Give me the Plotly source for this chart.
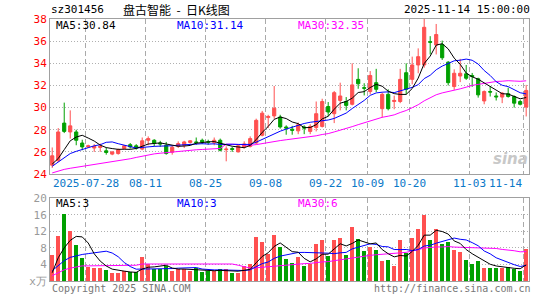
import plotly.graph_objects as go
import pandas as pd

# ---------------- data ----------------
dates = (
    ["2025-07-18", "2025-07-21", "2025-07-22", "2025-07-23", "2025-07-24", "2025-07-25",
     "2025-07-28", "2025-07-29", "2025-07-30", "2025-07-31",
     "2025-08-01", "2025-08-04", "2025-08-05", "2025-08-06", "2025-08-07", "2025-08-08",
     "2025-08-11", "2025-08-12", "2025-08-13", "2025-08-14", "2025-08-15",
     "2025-08-18", "2025-08-19", "2025-08-20", "2025-08-21", "2025-08-22",
     "2025-08-25", "2025-08-26", "2025-08-27", "2025-08-28", "2025-08-29",
     "2025-09-01", "2025-09-02", "2025-09-03", "2025-09-04", "2025-09-05",
     "2025-09-08", "2025-09-09", "2025-09-10", "2025-09-11", "2025-09-12",
     "2025-09-15", "2025-09-16", "2025-09-17", "2025-09-18", "2025-09-19",
     "2025-09-22", "2025-09-23", "2025-09-24", "2025-09-25", "2025-09-26",
     "2025-09-29", "2025-09-30",
     "2025-10-09", "2025-10-10",
     "2025-10-13", "2025-10-14", "2025-10-15", "2025-10-16", "2025-10-17",
     "2025-10-20", "2025-10-21", "2025-10-22", "2025-10-23", "2025-10-24",
     "2025-10-27", "2025-10-28", "2025-10-29", "2025-10-30", "2025-10-31",
     "2025-11-03", "2025-11-04", "2025-11-05", "2025-11-06", "2025-11-07",
     "2025-11-10", "2025-11-11", "2025-11-12", "2025-11-13", "2025-11-14"]
)

open_ = [24.80, 25.20, 28.60, 27.80, 27.80, 26.80, 26.45, 26.35, 26.40, 26.10,
         25.80, 25.85, 26.30, 26.65, 26.55, 26.25, 27.05, 27.05, 26.80, 26.60,
         25.97, 26.50, 26.60, 26.85, 26.90, 27.05, 26.92, 26.85, 27.05, 26.20,
         26.30, 26.00, 26.45, 26.50, 26.80, 27.50, 29.10, 29.25, 29.15, 28.25,
         28.05, 27.90, 28.25, 27.85, 28.20, 28.30, 30.10, 29.45, 30.65, 30.55,
         30.30, 32.55, 31.80, 31.45, 32.25, 29.90, 31.20, 30.55, 30.55, 33.15,
         32.55, 33.85, 33.85, 35.95, 35.65, 35.70, 34.10, 31.90, 32.85, 33.05,
         32.90, 32.60, 30.60, 31.45, 31.05, 30.95, 31.25, 31.00, 30.55, 30.05]
high = [26.40, 28.15, 30.45, 29.75, 28.00, 27.10, 26.65, 26.70, 26.75, 26.40,
        26.05, 26.30, 26.60, 26.80, 26.70, 27.30, 27.40, 27.15, 27.00, 26.90,
        26.55, 26.95, 27.00, 27.05, 27.30, 27.20, 27.10, 27.30, 27.20, 26.50,
        26.45, 26.65, 26.95, 27.40, 29.00, 29.70, 29.35, 31.95, 29.35, 28.40,
        28.35, 28.65, 28.40, 28.50, 30.55, 30.80, 30.50, 31.50, 32.25, 30.95,
        34.00, 33.55, 32.20, 33.30, 33.50, 31.35, 31.65, 31.08, 33.50, 34.00,
        34.60, 35.35, 38.00, 36.45, 37.55, 36.05, 34.20, 33.45, 34.40, 33.85,
        33.13, 32.70, 31.55, 31.95, 31.37, 31.40, 31.80, 31.10, 30.70, 32.05]
low = [24.55, 25.10, 27.70, 27.20, 26.60, 26.15, 26.35, 26.00, 26.00, 25.75,
       25.70, 25.75, 26.25, 26.30, 26.20, 26.15, 26.60, 26.50, 26.45, 25.75,
       25.75, 26.35, 26.35, 26.75, 26.65, 26.70, 26.65, 26.60, 26.05, 25.15,
       26.00, 25.95, 26.30, 26.40, 26.70, 27.40, 28.15, 29.00, 28.10, 27.55,
       27.55, 27.60, 27.60, 27.60, 27.85, 28.20, 29.20, 28.60, 29.75, 29.75,
       30.20, 31.70, 31.10, 31.20, 31.40, 29.10, 29.75, 29.85, 30.40, 31.20,
       32.10, 33.10, 33.60, 34.80, 34.80, 34.30, 32.00, 31.60, 32.30, 32.50,
       31.87, 30.90, 30.30, 31.00, 30.64, 30.40, 30.90, 30.00, 30.20, 29.20]
close = [25.65, 27.80, 27.85, 28.35, 27.05, 26.45, 26.55, 26.50, 26.50, 25.95,
         26.00, 26.20, 26.55, 26.45, 26.35, 27.00, 27.20, 26.80, 26.72, 25.85,
         26.42, 26.75, 26.90, 27.00, 26.85, 26.88, 26.88, 27.05, 26.15, 26.25,
         26.22, 26.55, 26.72, 27.20, 28.85, 29.50, 29.20, 29.95, 28.25, 28.15,
         27.95, 28.45, 28.15, 28.30, 29.45, 30.55, 29.60, 31.35, 31.05, 30.20,
         32.05, 32.15, 31.75, 32.90, 31.65, 31.20, 29.90, 30.65, 32.55, 31.65,
         33.85, 34.60, 37.25, 35.90, 36.60, 34.50, 32.25, 33.10, 33.10, 32.65,
         32.80, 31.15, 31.45, 31.40, 30.97, 31.30, 31.00, 30.40, 30.30, 31.55]
volume = [6.2, 10.8, 16.2, 12.0, 8.6, 5.6, 3.4, 3.2, 3.2, 2.7,
          1.8, 1.8, 2.4, 2.2, 2.2, 5.8, 4.0, 2.8, 2.8, 3.6,
          2.4, 2.8, 2.8, 2.4, 3.0, 2.2, 2.4, 2.4, 2.8, 2.8,
          1.9, 1.9, 3.5, 4.0, 10.7, 9.5, 6.4, 11.1, 8.2, 5.3,
          4.4, 5.7, 3.7, 4.0, 8.9, 9.9, 5.9, 9.9, 10.3, 6.3,
          12.9, 10.1, 7.3, 8.2, 7.4, 4.9, 5.1, 3.5, 9.9, 6.7,
          10.4, 12.5, 15.8, 9.9, 12.5, 9.0, 9.4, 7.5, 6.9, 5.1,
          4.0, 4.9, 3.2, 3.0, 3.0, 3.0, 3.4, 2.9, 2.5, 7.7]

# moving-average values at the start of the window (read from the chart,
# they depend on history before the first visible day)
ma5_head = [24.9, 25.4, 26.2, 27.0]
ma10_head = [24.7, 25.1, 25.45, 25.85, 26.05, 26.25, 26.38, 26.55, 26.65]
ma30_head = [24.10, 24.27, 24.42, 24.52, 24.60, 24.68, 24.76, 24.84, 24.95, 25.05,
             25.13, 25.20, 25.28, 25.38, 25.50, 25.62, 25.74, 25.82, 25.88, 25.94,
             26.00, 26.07, 26.12, 26.16, 26.19, 26.22, 26.25, 26.28, 26.31]
vma5_head = [2.0, 5.6, 8.0, 9.8]
vma10_head = [2.5, 3.7, 4.9, 5.7, 6.1, 6.4, 6.6, 6.8, 7.0]
vma30_head = [1.27, 2.06, 2.7, 3.1, 3.4, 3.65, 3.65, 3.65, 3.65, 3.65,
              3.65, 3.65, 3.65, 3.65, 3.8, 4.1, 4.1, 4.1, 4.1, 4.1,
              4.1, 4.1, 4.1, 4.1, 4.1, 4.1, 4.1, 4.1, 4.2]

tick_dates = ["2025-07-28", "2025-08-11", "2025-08-25", "2025-09-08", "2025-09-22",
              "2025-10-09", "2025-10-20", "2025-11-03", "2025-11-14"]
tick_labels = ["2025-07-28", "08-11", "08-25", "09-08", "09-22",
               "10-09", "10-20", "11-03", "11-14"]

price_ticks = [24, 26, 28, 30, 32, 34, 36, 38]
vol_ticks = [0, 4, 8, 12, 16, 20]
vol_tick_labels = ["x万", "4", "8", "12", "16", "20"]

title_code = "sz301456"
title_name = "盘古智能 \u00a0-\u00a0 日K线图"
title_time = "2025-11-14 15:00:00"
price_ma_labels = ["MA5:30.84", "MA10:31.14", "MA30:32.35"]
vol_ma_labels = ["MA5:3", "MA10:3", "MA30:6"]

# ---------------- derived ----------------
def moving(values, n, head):
    s = pd.Series(values).rolling(n).mean().tolist()
    return list(head) + s[n - 1:]

x = list(range(len(dates)))
ma5 = moving(close, 5, ma5_head)
ma10 = moving(close, 10, ma10_head)
ma30 = moving(close, 30, ma30_head)
vma5 = moving(volume, 5, vma5_head)
vma10 = moving(volume, 10, vma10_head)
vma30 = moving(volume, 30, vma30_head)

RED = "#ff5050"
GREEN = "#00a000"
vol_colors = [RED if c >= o else GREEN for o, c in zip(open_, close)]
tick_pos = [dates.index(d) - 0.4 for d in tick_dates]

W, H = 545, 300
ML, MR, MT, MB = 50, 16, 19, 14
PW, PH = W - ML - MR, H - MT - MB

def py(y):
    return (H - MB - y) / PH

def pxx(xp):
    return (xp - ML) / PW

MONO = "DejaVu Sans Mono"

fig = go.Figure()
fig.add_trace(go.Candlestick(
    x=x, open=open_, high=high, low=low, close=close,
    increasing=dict(line=dict(color=RED, width=1), fillcolor=RED),
    decreasing=dict(line=dict(color=GREEN, width=1), fillcolor=GREEN),
    whiskerwidth=0, xaxis="x", yaxis="y", showlegend=False, hoverinfo="skip"))
for vals, col in [(ma30, "#ff00ff"), (ma10, "#0000ff"), (ma5, "#000000")]:
    fig.add_trace(go.Scatter(x=x, y=vals, mode="lines", line=dict(color=col, width=1),
                             xaxis="x", yaxis="y", showlegend=False, hoverinfo="skip"))

fig.add_trace(go.Bar(x=x, y=volume, marker=dict(color=vol_colors, line=dict(width=0)),
                     width=0.72, xaxis="x2", yaxis="y2", showlegend=False, hoverinfo="skip"))
for vals, col in [(vma30, "#ff00ff"), (vma10, "#0000ff"), (vma5, "#000000")]:
    fig.add_trace(go.Scatter(x=x, y=vals, mode="lines", line=dict(color=col, width=1),
                             xaxis="x2", yaxis="y2", showlegend=False, hoverinfo="skip"))

xr = [-0.37, 79.47]
xcommon = dict(range=xr, tickmode="array", tickvals=tick_pos, showticklabels=False,
               showgrid=True, gridcolor="#aaaaaa", griddash="5px,3px", gridwidth=1,
               showline=True, linecolor="#a0a0a0", linewidth=1, mirror=True,
               zeroline=False, ticks="", fixedrange=True)
ycommon = dict(showgrid=True, gridcolor="#b0b0b0", griddash="1px,2px", gridwidth=1,
               showline=True, linecolor="#a0a0a0", linewidth=1, mirror=True,
               zeroline=False, ticks="", tickmode="array", fixedrange=True)

vol_top = py(201.5)
price_bottom = py(177)

fig.update_layout(
    width=W, height=H, margin=dict(l=ML, r=MR, t=MT, b=MB),
    paper_bgcolor="white", plot_bgcolor="white",
    boxgap=0.25, bargap=0,
    xaxis=dict(domain=[0, 1], anchor="y", rangeslider=dict(visible=False), **xcommon),
    xaxis2=dict(domain=[0, 1], anchor="y2", **xcommon),
    yaxis=dict(domain=[price_bottom, 1], range=[24, 38], anchor="x",
               tickvals=price_ticks, ticktext=[str(v) for v in price_ticks],
               tickfont=dict(family=MONO, size=11, color="#ff0000"), **ycommon),
    yaxis2=dict(domain=[0, vol_top], range=[0, 20], anchor="x2",
                tickvals=vol_ticks, ticktext=vol_tick_labels,
                tickfont=dict(family=MONO, size=11, color="#999999"), **ycommon),
    font=dict(family=MONO),
)

ann = []
def text(xp, yp, s, color="#000000", size=10, anchor="left", family=MONO, yanchor="middle"):
    ann.append(dict(x=pxx(xp), y=py(yp), xref="paper", yref="paper", text=s,
                    showarrow=False, xanchor=anchor, yanchor=yanchor,
                    font=dict(family=family, size=size, color=color)))

text(49, 9.5, title_code, size=11)
text(121, 9.5, title_name, size=12, family="Noto Sans CJK SC")
text(532, 9.5, title_time, size=11, anchor="right")

ma_colors = ["#000000", "#0000ff", "#ff00ff"]
ma_x = [54, 175, 296]
for s, c, xp in zip(price_ma_labels, ma_colors, ma_x):
    text(xp, 26, s, color=c, size=11)
for s, c, xp in zip(vol_ma_labels, ma_colors, ma_x):
    text(xp, 207.5, s, color=c, size=11)

for p, lab, i in zip(tick_pos, tick_labels, range(len(tick_labels))):
    last = i == len(tick_labels) - 1
    ann.append(dict(x=p, y=py(187), xref="x", yref="paper", text=lab, showarrow=False,
                    xanchor="right" if last else "center", yanchor="middle",
                    font=dict(family=MONO, size=11, color="#0a78c8")))

text(50, 294, "Copyright 2025 SINA.COM", color="#777777", size=10)
text(533, 294, "http://finance.sina.com.cn", color="#777777", size=10, anchor="right")
text(510, 162, "<b><i>sina</i></b>", color="#c8c8c8", size=15, anchor="center",
     family="DejaVu Sans")

fig.update_layout(annotations=ann)
fig.write_html("out.html")
